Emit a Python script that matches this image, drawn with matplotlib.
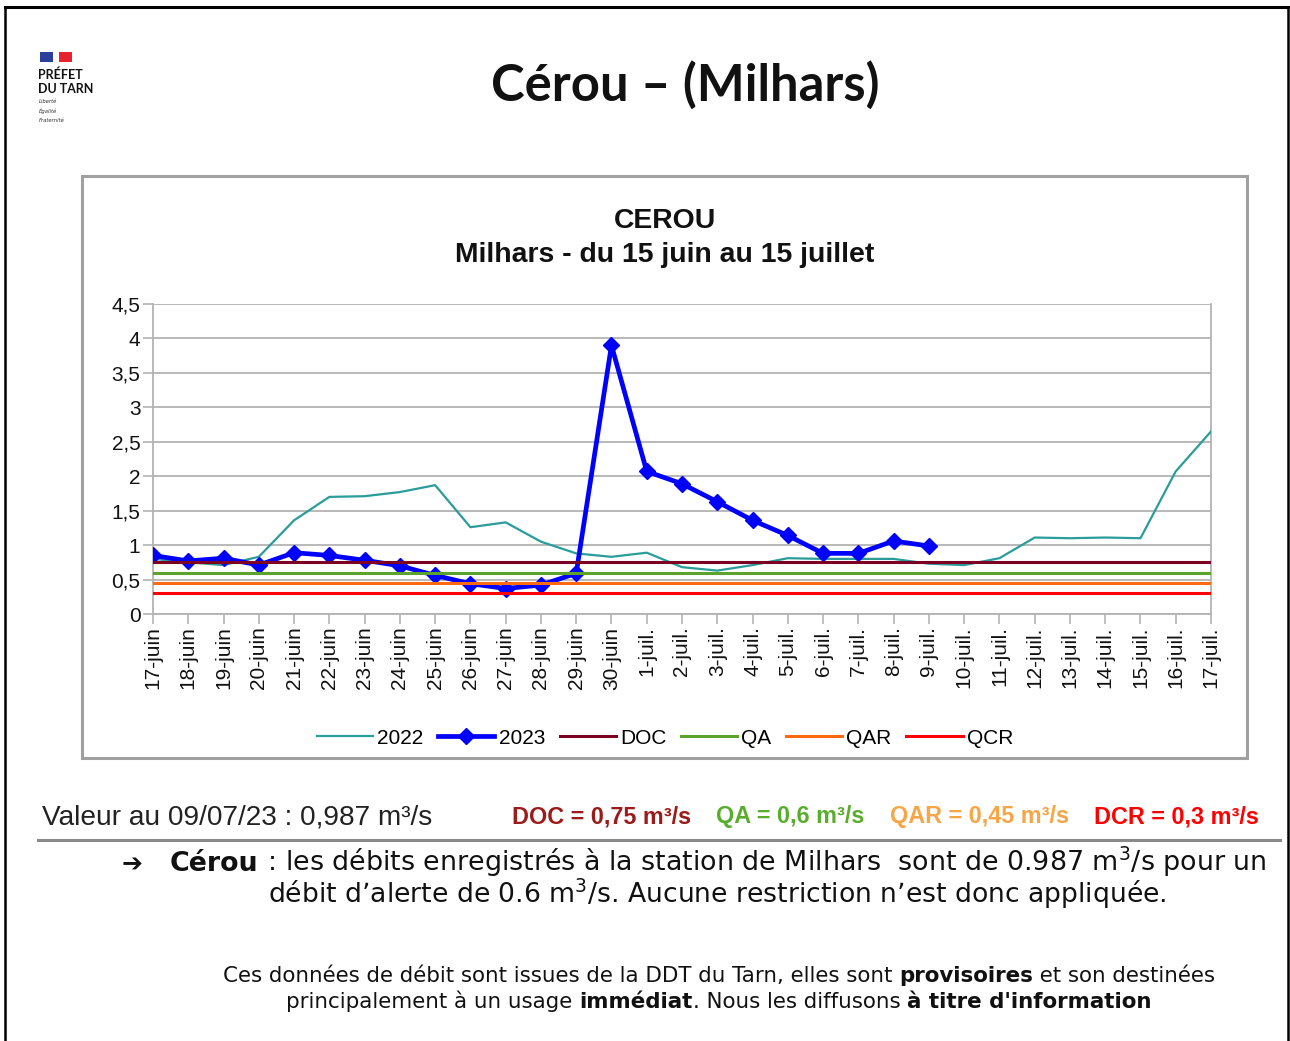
import matplotlib
matplotlib.use("Agg")
import matplotlib.pyplot as plt
from matplotlib.patches import Rectangle
from matplotlib.lines import Line2D

# ---------------- data ----------------
dates = ["17-juin", "18-juin", "19-juin", "20-juin", "21-juin", "22-juin", "23-juin",
         "24-juin", "25-juin", "26-juin", "27-juin", "28-juin", "29-juin", "30-juin",
         "1-juil.", "2-juil.", "3-juil.", "4-juil.", "5-juil.", "6-juil.", "7-juil.",
         "8-juil.", "9-juil.", "10-juil.", "11-juil.", "12-juil.", "13-juil.", "14-juil.",
         "15-juil.", "16-juil.", "17-juil."]
q2022 = [0.80, 0.75, 0.71, 0.83, 1.36, 1.70, 1.71, 1.77, 1.87, 1.26, 1.33, 1.05, 0.88, 0.83,
         0.89, 0.68, 0.63, 0.71, 0.81, 0.80, 0.80, 0.80, 0.73, 0.71, 0.81, 1.11, 1.10, 1.11,
         1.10, 2.07, 2.65]
q2023 = [0.85, 0.77, 0.81, 0.71, 0.89, 0.85, 0.78, 0.70, 0.56, 0.44, 0.37, 0.42, 0.59, 3.90,
         2.07, 1.89, 1.63, 1.36, 1.14, 0.88, 0.88, 1.06, 0.987]
thresh_names = ["DOC", "QA", "QAR", "QCR"]
thresh_values = [0.75, 0.60, 0.45, 0.30]
yticks = [0, 0.5, 1, 1.5, 2, 2.5, 3, 3.5, 4, 4.5]
ytick_labels = ["0", "0,5", "1", "1,5", "2", "2,5", "3", "3,5", "4", "4,5"]

c2022 = "#2a9d9b"
c2023 = "#0000ff"
thresh_colors = ["#7d0022", "#5ba32b", "#ff6a10", "#ff0000"]

W, H = 1290, 1041
fig = plt.figure(figsize=(W / 100, H / 100), dpi=100)
fig.patch.set_facecolor("white")


def fx(x):
    return x / W


def fy(y):
    return 1 - y / H


# outer frame
fig.add_artist(Line2D([fx(5), fx(1288)], [fy(7), fy(7)], color="black", lw=2.2))
fig.add_artist(Line2D([fx(5), fx(5)], [fy(7), fy(1041)], color="black", lw=1.8))
fig.add_artist(Line2D([fx(1288), fx(1288)], [fy(7), fy(1041)], color="black", lw=1.8))

# logo
fig.add_artist(Rectangle((fx(40), fy(62)), fx(13), 10 / H, color="#2a3f9a", lw=0))
fig.add_artist(Rectangle((fx(59), fy(62)), fx(13), 10 / H, color="#e8232e", lw=0))
fig.text(fx(38), fy(75), "PRÉFET", fontsize=9, fontweight="bold", family="Lato",
         va="center", ha="left", color="#111111")
fig.text(fx(38), fy(89), "DU TARN", fontsize=9, fontweight="bold", family="Lato",
         va="center", ha="left", color="#111111")
for i, w in enumerate(["Liberté", "Égalité", "Fraternité"]):
    fig.text(fx(39), fy(102 + 9 * i), w, fontsize=3.8, style="italic", va="center",
             ha="left", color="#333333")

# main title
fig.text(fx(685), fy(85), "Cérou – (Milhars)", fontsize=36.5, fontweight="bold",
         family="Lato", ha="center", va="center", color="#111111")

# chart box
fig.add_artist(Rectangle((fx(82), fy(758)), fx(1247 - 82), (758 - 176) / H,
                         fill=False, edgecolor="#a0a0a0", lw=2.2))
fig.text(fx(665), fy(221), "CEROU", fontsize=20.4, fontweight="bold",
         family="Liberation Sans", ha="center", va="center", color="#111111")
fig.text(fx(665), fy(255), "Milhars - du 15 juin au 15 juillet", fontsize=20.4,
         fontweight="bold", family="Liberation Sans", ha="center", va="center",
         color="#111111")

# axes
ax = fig.add_axes([fx(153), fy(614), fx(1211 - 153), (614 - 304) / H])
x = list(range(len(dates)))
ax.plot(x, q2022, color=c2022, lw=1.6, label="2022", zorder=3)
ax.plot(x[:len(q2023)], q2023, color=c2023, lw=3.4, marker="D", markersize=8.5,
        label="2023", zorder=4)
for n, v, c in zip(thresh_names, thresh_values, thresh_colors):
    ax.axhline(v, color=c, lw=2.2, label=n, zorder=5)

ax.set_xlim(0, len(dates) - 1)
ax.set_ylim(0, 4.5)
ax.set_yticks(yticks)
ax.set_yticklabels(ytick_labels, fontsize=15, family="Liberation Sans", color="#111111")
ax.set_xticks(x)
ax.set_xticklabels(dates, rotation=90, fontsize=15, family="Liberation Sans",
                   color="#111111")
ax.grid(axis="y", color="#b3b3b3", lw=1.3)
ax.set_axisbelow(True)
ax.spines["top"].set_visible(False)
for s in ["left", "right", "bottom"]:
    ax.spines[s].set_color("#b3b3b3")
    ax.spines[s].set_linewidth(1.3)
ax.tick_params(axis="both", color="#b3b3b3", width=1.2, length=7, pad=2)
ax.tick_params(axis="y", pad=2)

handles, labels = ax.get_legend_handles_labels()
leg = fig.legend(handles, labels, loc="center", bbox_to_anchor=(fx(665), fy(738)),
                 ncol=6, frameon=False, prop={"family": "Liberation Sans", "size": 15},
                 handlelength=2.7, handletextpad=0.2, columnspacing=0.7)
for lh in leg.get_lines():
    if lh.get_label() == "2023":
        lh.set_markersize(8)

# values line
fig.text(fx(42), fy(818), "Valeur au 09/07/23 : 0,987 m³/s", fontsize=20.2,
         family="Liberation Sans", ha="left", va="center", color="#222222")
tinfo = [("DOC = 0,75 m³/s", 512, "#9b1b1b"), ("QA = 0,6 m³/s", 716, "#5aad2c"),
         ("QAR = 0,45 m³/s", 890, "#f7a545"), ("DCR = 0,3 m³/s", 1094, "#ff0000")]
for t, xp, c in tinfo:
    fig.text(fx(xp), fy(817), t, fontsize=16.8, fontweight="bold",
             family="Liberation Sans", ha="left", va="center", color=c)
fig.add_artist(Line2D([fx(38), fx(1280)], [fy(840), fy(840)], color="#8a8a8a", lw=2.2))

renderer = fig.canvas.get_renderer()


def rich_line(segments, x, y, size, ha="left"):
    texts = []
    for s, bold in segments:
        t = fig.text(0, fy(y), s, fontsize=size, family="DejaVu Sans",
                     fontweight="bold" if bold else "normal", ha="left",
                     va="baseline", color="#111111")
        texts.append(t)
    widths = [t.get_window_extent(renderer).width for t in texts]
    total = sum(widths)
    start = x - total / 2 if ha == "center" else x
    cur = start
    for t, w in zip(texts, widths):
        t.set_x(fx(cur))
        cur += w


fig.text(fx(122), fy(871), "➔", fontsize=18, family="DejaVu Sans", ha="left",
         va="baseline", color="#111111", fontweight="bold")
rich_line([("Cérou", True),
           (" : les débits enregistrés à la station de Milhars  sont de 0.987 m$^3$/s pour un",
            False)], 170, 871, 19.4)
rich_line([("débit d’alerte de 0.6 m$^3$/s. Aucune restriction n’est donc appliquée.", False)],
          268, 903, 19.2)

rich_line([("Ces données de débit sont issues de la DDT du Tarn, elles sont ", False),
           ("provisoires", True), (" et son destinées", False)], 719, 982, 15.4,
          ha="center")
rich_line([("principalement à un usage ", False), ("immédiat", True),
           (". Nous les diffusons ", False), ("à titre d'information", True)],
          719, 1008, 15.4, ha="center")

fig.savefig("out.png", dpi=100)
